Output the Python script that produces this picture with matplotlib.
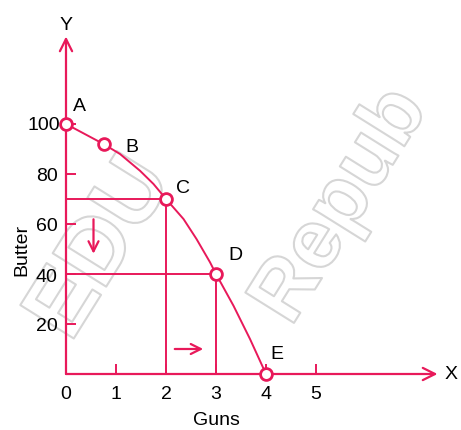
import matplotlib.pyplot as plt
import matplotlib.patheffects as pe

# points on the frontier (guns, butter)
point_names = ['A', 'B', 'C', 'D', 'E']
guns = [0, 0.75, 2, 3, 4]
butter = [100, 92, 70, 40, 0]

# curve
curve_guns = [0, 0.75, 1.08, 1.48, 1.75, 2, 2.35, 2.61, 2.88, 3, 3.35, 3.68, 4]
curve_butter = [100, 92, 88, 81.3, 76, 70, 62, 54, 44.7, 40, 27.3, 14, 0]

x_ticks = [0, 1, 2, 3, 4, 5]
y_ticks = [20, 40, 60, 80, 100]

pink = '#e8195a'

plt.rcParams['font.family'] = ['Liberation Sans', 'DejaVu Sans']

fig = plt.figure(figsize=(4.61, 4.31), dpi=100)
ax = fig.add_axes([66 / 461, 56 / 431, 375 / 461, 350 / 431])
ax.set_xlim(0, 7.5)
ax.set_ylim(0, 140)

# faint outlined watermark behind everything
halo = [pe.Stroke(linewidth=1.5, foreground='#d6d6d6')]
fig.text(0.22, 0.42, 'EDU', fontsize=66, rotation=58, color='none',
         ha='center', va='center', path_effects=halo, zorder=-5, fontweight='bold')
fig.text(0.74, 0.52, 'Repub', fontsize=60, rotation=58, color='none',
         ha='center', va='center', path_effects=halo, zorder=-5, fontweight='bold')

for s in ax.spines.values():
    s.set_visible(False)
ax.patch.set_alpha(0)

# axes with arrow heads
ax.annotate('', xy=(7.43, 0), xytext=(0, 0),
            arrowprops=dict(arrowstyle='->', color=pink, lw=1.6,
                            mutation_scale=22, shrinkA=0, shrinkB=0),
            annotation_clip=False)
ax.annotate('', xy=(0, 135), xytext=(0, 0),
            arrowprops=dict(arrowstyle='->', color=pink, lw=1.6,
                            mutation_scale=22, shrinkA=0, shrinkB=0),
            annotation_clip=False)

# guide lines to C and D
ax.plot([0, guns[2], guns[2]], [butter[2], butter[2], 0], color=pink, lw=1.4)
ax.plot([0, guns[3], guns[3]], [butter[3], butter[3], 0], color=pink, lw=1.4)

# frontier
ax.plot(curve_guns, curve_butter, color=pink, lw=1.4, clip_on=False)
ax.plot(guns, butter, 'o', mfc='white', mec=pink, mew=2, ms=8.5,
        clip_on=False, zorder=5)

label_pos = [(0.14, 104), (1.18, 91), (2.2, 74.4), (3.24, 48), (4.08, 8)]
for name, (lx, ly) in zip(point_names, label_pos):
    va = 'bottom' if name == 'A' else 'center'
    ax.text(lx, ly, name, fontsize=14, ha='left', va=va)

# direction arrows
ax.annotate('', xy=(0.55, 47), xytext=(0.55, 63),
            arrowprops=dict(arrowstyle='->', color=pink, lw=1.6, mutation_scale=18))
ax.annotate('', xy=(2.8, 10), xytext=(2.12, 10),
            arrowprops=dict(arrowstyle='->', color=pink, lw=1.6, mutation_scale=18))

ax.set_xticks(x_ticks)
ax.set_yticks(y_ticks)
ax.set_xticklabels([str(t) for t in x_ticks])
ax.set_yticklabels([str(t) for t in y_ticks])
ax.tick_params(axis='y', direction='in', length=7, width=1.4, color=pink,
               labelsize=14, pad=6)
ax.tick_params(axis='x', direction='in', length=7, width=1.4, color=pink,
               labelsize=14, pad=8)
ax.text(-0.12, 100, '100', fontsize=14, ha='right', va='center')
ax.get_yticklabels()[-1].set_visible(False)

ax.text(0, 138, 'Y', fontsize=14, ha='center', va='baseline')
ax.text(7.58, 0, 'X', fontsize=14, ha='left', va='center')
ax.set_xlabel('Guns', fontsize=14)
ax.set_ylabel('Butter', fontsize=14)
ax.xaxis.set_label_coords(0.4, -0.105)
ax.yaxis.set_label_coords(-0.095, 0.357)

fig.savefig('out.png', dpi=100)
